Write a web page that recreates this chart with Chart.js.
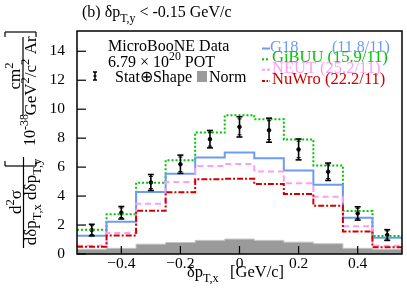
<!DOCTYPE html>
<html>
<head>
<meta charset="utf-8">
<script src="https://cdn.jsdelivr.net/npm/chart.js@4"></script>
<style>
  html, body { margin: 0; padding: 0; background: #fff; }
  #wrap { width: 407px; height: 295px; }
</style>
</head>
<body>
<div id="wrap"><canvas id="c" width="407" height="295"></canvas></div>
<script>
    "use strict";

    // bins in dpT,x [GeV/c]
    const binEdges = [-0.55, -0.45, -0.35, -0.25, -0.15, -0.05, 0.05, 0.15, 0.25, 0.35, 0.45, 0.55];
    const binCenters = [-0.5, -0.4, -0.3, -0.2, -0.1, 0, 0.1, 0.2, 0.3, 0.4, 0.5];

    // measured cross section and errors
    const dataValues = [1.65, 2.85, 4.94, 6.2, 7.93, 8.78, 8.55, 7.22, 5.68, 2.8, 1.31];
    const dataErr = [0.4, 0.43, 0.55, 0.63, 0.6, 0.7, 0.83, 0.72, 0.6, 0.46, 0.37];
    const statErr = [0.3, 0.33, 0.42, 0.5, 0.48, 0.55, 0.65, 0.57, 0.47, 0.36, 0.28];
    const normValues = [0.33, 0.39, 0.68, 0.79, 0.94, 1.03, 0.94, 0.82, 0.71, 0.39, 0.32];

    // generator predictions
    const g18Values = [1.26, 2.23, 4.28, 5.54, 6.67, 7.01, 6.62, 5.77, 4.78, 2.51, 1.13];
    const gibuuValues = [1.68, 2.74, 4.92, 6.48, 8.39, 9.59, 9.31, 7.91, 6.12, 2.97, 1.24];
    const neutValues = [0.57, 1.45, 3.47, 4.97, 6.07, 6.21, 5.7, 4.88, 3.95, 1.91, 0.57];
    const nuwroValues = [0.5, 1.28, 2.98, 4.27, 5.17, 5.19, 4.83, 4.15, 3.33, 1.56, 0.46];

    const modelNames = ['G18', 'GiBUU', 'NEUT', 'NuWro'];
    const modelChi2 = ['(11.8/11)', '(15.9/11)', '(25.2/11)', '(22.2/11)'];

    const xTicks = [-0.4, -0.2, 0, 0.2, 0.4];
    const yTicks = [0, 2, 4, 6, 8, 10, 12, 14];

    const FONT = '"Liberation Serif", "Times New Roman", serif';
    const colBlue = '#6c9cf2';
    const colGreen = '#00c400';
    const colPink = '#ff9cf5';
    const colRed = '#d00000';

    function stepPoints(vals) {
        return binEdges.map((e, i) => ({ x: e, y: vals[Math.min(i, vals.length - 1)] }));
    }

    function histSet(label, vals, color, dash) {
        return {
            label: label,
            data: stepPoints(vals),
            stepped: 'before',
            borderColor: color,
            borderWidth: 2,
            borderDash: dash,
            pointRadius: 0,
            fill: false
        };
    }

    // text with sub/superscripts; parts = [[text, kind], ...]
    const SUB = 0.74;
    function richWidth(ctx, parts, size) {
        let w = 0;
        parts.forEach(p => {
            let s = p[1] ? size * SUB : size;
            ctx.font = s + 'px ' + FONT;
            w += ctx.measureText(p[0]).width;
        });
        return w;
    }

    function drawRich(ctx, parts, x, y, size, color, align) {
        if (align === 'center') x -= richWidth(ctx, parts, size) / 2;
        ctx.fillStyle = color;
        ctx.textBaseline = 'alphabetic';
        ctx.textAlign = 'left';
        parts.forEach(p => {
            let s = size, dy = 0;
            if (p[1] === 'sub') { s = size * SUB; dy = size * 0.32; }
            if (p[1] === 'sup') { s = size * SUB; dy = -size * 0.42; }
            ctx.font = s + 'px ' + FONT;
            ctx.fillText(p[0], x, y + dy);
            x += ctx.measureText(p[0]).width;
        });
    }

    // rotated text: baseline at x = bx, centered on y = cy
    function drawRichUp(ctx, parts, bx, cy, size) {
        ctx.save();
        ctx.translate(bx, cy);
        ctx.rotate(-Math.PI / 2);
        drawRich(ctx, parts, 0, 0, size, '#000', 'center');
        ctx.restore();
    }

    function line(ctx, x1, y1, x2, y2) {
        ctx.beginPath();
        ctx.moveTo(x1, y1);
        ctx.lineTo(x2, y2);
        ctx.stroke();
    }

    const decorPlugin = {
        id: 'decor',
        afterDatasetsDraw(chart) {
            const ctx = chart.ctx;
            const xs = chart.scales.x, ys = chart.scales.y;
            const a = chart.chartArea;

            // error bars
            ctx.save();
            ctx.strokeStyle = '#000';
            ctx.lineWidth = 1.6;
            binCenters.forEach((c, i) => {
                let px = xs.getPixelForValue(c);
                let top = ys.getPixelForValue(dataValues[i] + dataErr[i]);
                let bot = ys.getPixelForValue(dataValues[i] - dataErr[i]);
                let st = ys.getPixelForValue(dataValues[i] + statErr[i]);
                let sb = ys.getPixelForValue(dataValues[i] - statErr[i]);
                line(ctx, px, top, px, bot);
                line(ctx, px - 3, top, px + 3, top);
                line(ctx, px - 3, bot, px + 3, bot);
                ctx.lineWidth = 1;
                line(ctx, px - 2, st, px + 2, st);
                line(ctx, px - 2, sb, px + 2, sb);
                ctx.lineWidth = 1.6;
            });

            // frame and inner ticks
            ctx.lineWidth = 1.5;
            ctx.strokeRect(a.left, a.top, a.right - a.left, a.bottom - a.top);
            ctx.lineWidth = 1.2;
            xTicks.forEach(v => {
                let px = xs.getPixelForValue(v);
                line(ctx, px, a.bottom, px, a.bottom - 8);
            });
            yTicks.forEach(v => {
                let py = ys.getPixelForValue(v);
                line(ctx, a.left, py, a.left + 9, py);
            });
            ctx.restore();
        },
        afterDraw(chart) {
            const ctx = chart.ctx;
            ctx.save();

            // title
            drawRich(ctx, [['(b) δp', ''], ['T,y', 'sub'], [' < -0.15 GeV/c', '']], 82, 17, 16, '#000');

            // x title
            drawRich(ctx, [['δp', ''], ['T,x', 'sub']], 187, 277, 16.5, '#000');
            drawRich(ctx, [['[GeV/c]', '']], 230, 277, 16.5, '#000');

            // y title
            drawRichUp(ctx, [['d', ''], ['2', 'sup'], ['σ', '']], 21, 202, 17);
            drawRichUp(ctx, [['dδp', ''], ['T,x', 'sub'], [' dδp', ''], ['T,y', 'sub']], 36, 202, 17);
            drawRichUp(ctx, [['10', ''], ['-38', 'sup']], 35, 130, 16);
            drawRichUp(ctx, [['cm', ''], ['2', 'sup']], 20, 76, 17);
            drawRichUp(ctx, [['GeV', ''], ['2', 'sup'], ['/c', ''], ['2', 'sup'], [' Ar', '']], 36, 76, 17);
            ctx.strokeStyle = '#000';
            ctx.lineWidth = 1.2;
            line(ctx, 23.5, 157, 23.5, 248);
            line(ctx, 23, 37, 23, 115);
            // brackets
            line(ctx, 5, 166, 36, 166);
            line(ctx, 5, 166, 5, 161);
            line(ctx, 36, 166, 36, 161);
            line(ctx, 5, 32, 36, 32);
            line(ctx, 5, 32, 5, 37);
            line(ctx, 36, 32, 36, 37);

            // left legend
            drawRich(ctx, [['MicroBooNE Data', '']], 108, 51, 16, '#000');
            drawRich(ctx, [['6.79 × 10', ''], ['20', 'sup'], [' POT', '']], 108, 67, 16, '#000');
            ctx.lineWidth = 1.5;
            line(ctx, 95, 72, 95, 80);
            line(ctx, 93, 72, 97, 72);
            line(ctx, 93, 80, 97, 80);
            line(ctx, 93.5, 76, 96.5, 76);
            drawRich(ctx, [['Stat⊕Shape', '']], 115, 82, 16, '#000');
            ctx.fillStyle = '#9a9a9a';
            ctx.fillRect(197, 71, 10, 11);
            drawRich(ctx, [['Norm', '']], 209, 82, 16, '#000');

            // right legend
            const cols = [colBlue, colGreen, colPink, colRed];
            const dashes = [[], [2, 2], [3, 2], [3, 1.5, 1.5, 1.5]];
            const rowY = [51.5, 62.3, 72.8, 84];
            modelNames.forEach((n, i) => {
                ctx.strokeStyle = cols[i];
                ctx.lineWidth = 2;
                ctx.setLineDash(dashes[i]);
                line(ctx, 262, rowY[i] - 3, 270, rowY[i] - 3);
                ctx.setLineDash([]);
                if (i === 0) {
                    drawRich(ctx, [[n, '']], 270, rowY[i], 16.5, cols[i]);
                    drawRich(ctx, [[modelChi2[i], '']], 332, rowY[i], 16, cols[i]);
                } else {
                    drawRich(ctx, [[n + ' ' + modelChi2[i], '']], 272, rowY[i], 16.5, cols[i]);
                }
            });
            ctx.restore();
        }
    };

    function fmtX(v) {
        if (Math.abs(v) < 1e-9) return '0';
        return (v < 0 ? '\u2212' : '') + Math.abs(v).toFixed(1);
    }

    new Chart(document.getElementById('c'), {
        type: 'line',
        data: {
            datasets: [
                {
                    label: 'Norm',
                    data: stepPoints(normValues),
                    stepped: 'before',
                    borderColor: '#c4c4c4',
                    borderWidth: 1,
                    backgroundColor: '#9a9a9a',
                    pointRadius: 0,
                    fill: 'origin'
                },
                histSet('NuWro', nuwroValues, colRed, [6, 2, 2, 2]),
                histSet('NEUT', neutValues, colPink, [6, 4]),
                histSet('G18', g18Values, colBlue, []),
                histSet('GiBUU', gibuuValues, colGreen, [2, 2]),
                {
                    label: 'Data',
                    data: binCenters.map((c, i) => ({ x: c, y: dataValues[i] })),
                    showLine: false,
                    pointRadius: 1.8,
                    pointBackgroundColor: '#000',
                    pointBorderColor: '#000'
                }
            ]
        },
        options: {
            responsive: false,
            animation: false,
            devicePixelRatio: 1,
            layout: { padding: { top: 31, right: 5, left: 0, bottom: 0 } },
            plugins: { legend: { display: false }, tooltip: { enabled: false } },
            scales: {
                x: {
                    type: 'linear',
                    min: -0.55,
                    max: 0.55,
                    grid: { display: false },
                    border: { display: false },
                    afterBuildTicks: s => { s.ticks = xTicks.map(v => ({ value: v })); },
                    afterFit: s => { s.height = 41; },
                    ticks: {
                        padding: -7,
                        maxRotation: 0,
                        color: '#000',
                        font: { family: FONT, size: 15.5 },
                        callback: v => fmtX(v)
                    }
                },
                y: {
                    min: 0,
                    max: 15.4,
                    grid: { display: false },
                    border: { display: false },
                    afterBuildTicks: s => { s.ticks = yTicks.map(v => ({ value: v })); },
                    afterFit: s => { s.width = 77; },
                    ticks: {
                        padding: 4,
                        color: '#000',
                        font: { family: FONT, size: 15.5 },
                        callback: v => String(v)
                    }
                }
            }
        },
        plugins: [decorPlugin]
    });
</script>
</body>
</html>
